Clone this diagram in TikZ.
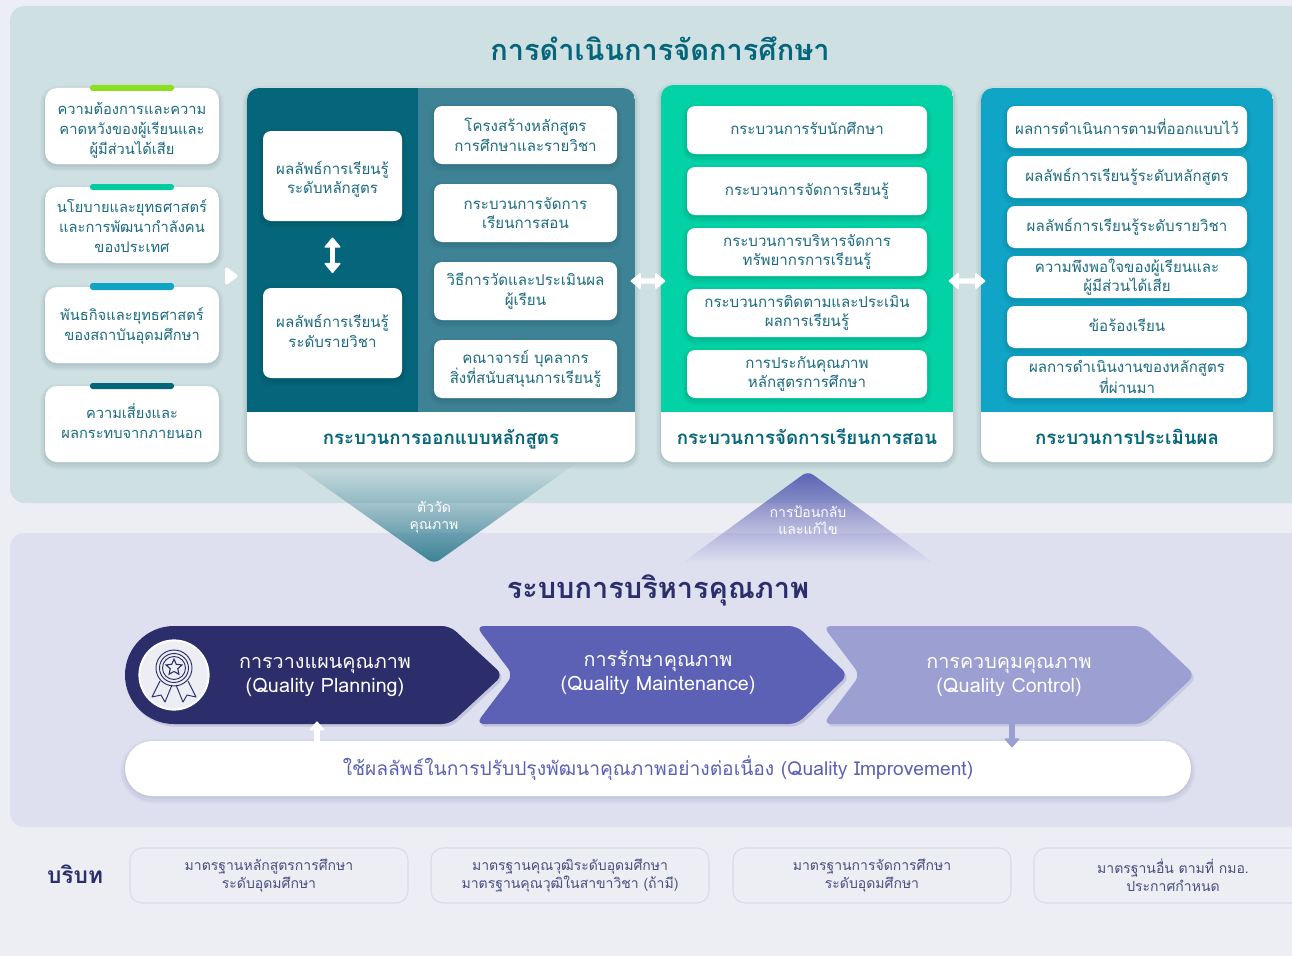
\documentclass[tikz,border=0pt]{standalone}
\usepackage{fontspec}
\setmainfont[Script=Thai]{Loma}
\usetikzlibrary{arrows.meta,shapes.geometric,fadings,calc}
\definecolor{pagebg}{HTML}{ECEEF3}
\definecolor{topbg}{HTML}{CFE0E3}
\definecolor{lowbg}{HTML}{DEE0F0}
\definecolor{tealdk}{HTML}{05657A}
\definecolor{tealmd}{HTML}{3E8295}
\definecolor{greenp}{HTML}{02D2A5}
\definecolor{bluep}{HTML}{10A5C7}
\definecolor{limec}{HTML}{8ADF23}
\definecolor{navy}{HTML}{2B2E6B}
\definecolor{violet}{HTML}{5C61B5}
\definecolor{lilac}{HTML}{9C9FD1}
\definecolor{txt}{HTML}{1B6A80}
\definecolor{edgec}{HTML}{D9DCE6}
\definecolor{ctx}{HTML}{4A4F80}
\tikzfading[name=fadetop, top color=transparent!100, middle color=transparent!82, bottom color=transparent!0]
\tikzfading[name=fadebot, top color=transparent!0, middle color=transparent!70, bottom color=transparent!100]
\tikzset{
  softsh/.style={
    preaction={draw=#1,line width=7pt,draw opacity=.035,fill=none,transform canvas={yshift=-2pt}},
    preaction={draw=#1,line width=4pt,draw opacity=.05,fill=none,transform canvas={yshift=-2pt}},
    preaction={draw=#1,line width=1.5pt,draw opacity=.05,fill=none,transform canvas={yshift=-1pt}}},
  softsh/.default={black!70!tealdk},
  card/.style={fill=white,rounded corners=6pt,text=txt,softsh,font=\fontsize{11.3}{14.8}\selectfont},
  tightcard/.style={card,font=\fontsize{11.3}{12.6}\selectfont},
  sidecard/.style={card,rounded corners=9pt,font=\fontsize{11}{15}\selectfont},
  footcard/.style={fill=white,rounded corners=9pt,softsh},
  foottext/.style={text=tealdk,font=\bfseries\fontsize{14}{16}\selectfont,inner sep=0pt,anchor=base},
  heading/.style={font=\bfseries\fontsize{21.7}{26}\selectfont,inner sep=0pt},
  chevtext/.style={text=white,align=center,inner sep=0pt,font=\fontsize{14.8}{18}\selectfont},
  trilabel/.style={text=white,align=center,inner sep=0pt,font=\fontsize{10.5}{12.6}\selectfont},
  ctxcard/.style={draw=edgec,line width=.8pt,fill=pagebg,rounded corners=9pt,text=ctx,font=\fontsize{10.5}{13.8}\selectfont},
  dbl/.style={draw=white,line width=4pt,{Triangle[length=8pt,width=13pt,round,line width=1.2pt]}-{Triangle[length=8pt,width=13pt,round,line width=1.2pt]}},
  single/.style={line width=5pt,-{Triangle[length=7pt,width=12pt,round,line width=1pt]}}
}
\newcommand{\rbox}[7]{%
  \pgfmathsetlengthmacro\bxw{(#5-#3)*0.75}%
  \pgfmathsetlengthmacro\bxh{(#6-#4)*0.75}%
  \node[#2,minimum width=\bxw,minimum height=\bxh,inner sep=0pt,align=center] (#1) at ({(#3+#5)/2},{(#4+#6)/2}) {#7};}
% a strut that pushes the lines of a box downward or upward
\newcommand{\pushdn}[1]{\rule{0pt}{#1pt}}
\newcommand{\pushup}[1]{\rule[-#1pt]{0pt}{0pt}}
\begin{document}
\begin{tikzpicture}[x=0.75pt,y=-0.75pt]
\useasboundingbox (0,0) rectangle (1292,956);
\clip (0,0) rectangle (1292,956);
\fill[pagebg] (0,0) rectangle (1292,956);
% bands
\fill[topbg,rounded corners=11pt] (10,6) rectangle (1330,503);
\fill[lowbg,rounded corners=11pt] (10,533) rectangle (1330,827);
% triangles between the bands
\fill[tealmd!90!teal,path fading=fadetop,rounded corners=5pt] (290,462) -- (578,462) -- (434,564) -- cycle;
\fill[violet,path fading=fadebot,rounded corners=5pt] (808,471) -- (934,563) -- (682,563) -- cycle;
\node[trilabel] (tq) at (434,517) {ตัววัด\\คุณภาพ};
\node[trilabel] (tf) at (808,520) {การป้อนกลับ\\และแก้ไข};
% titles
\node[heading,text=tealdk] (title1) at (660,49) {การดำเนินการจัดการศึกษา};
\node[heading,text=navy] (title2) at (658,590) {ระบบการบริหารคุณภาพ};
% left column
\rbox{L1}{sidecard}{45}{88}{219}{164}{\pushdn{15}ความต้องการและความ\\คาดหวังของผู้เรียนและ\\ผู้มีส่วนได้เสีย}
\rbox{L2}{sidecard}{45}{187}{219}{263}{\pushdn{12}นโยบายและยุทธศาสตร์\\และการพัฒนากำลังคน\\ของประเทศ}
\rbox{L3}{sidecard}{45}{287}{219}{363}{\pushdn{11}พันธกิจและยุทธศาสตร์\\ของสถาบันอุดมศึกษา}
\rbox{L4}{sidecard}{45}{386}{219}{462}{ความเสี่ยงและ\\ผลกระทบจากภายนอก\pushup{4.5}}
\fill[limec,rounded corners=2pt] (90,85) rectangle (174,91);
\fill[greenp!90!teal,rounded corners=2pt] (90,184) rectangle (174,190);
\fill[bluep,rounded corners=2pt] (90,283) rectangle (174,290);
\fill[tealdk,rounded corners=2pt] (90,383) rectangle (174,389);
\fill[white,rounded corners=2.5pt,line join=round] (225,266) -- (239,276) -- (225,286) -- cycle;
% panel 1
\rbox{PD}{footcard}{247}{88}{635}{462}{}
\begin{scope}
\clip[rounded corners=9pt] (247,88) rectangle (635,462);
\fill[tealdk] (247,88) rectangle (418,412);
\fill[tealmd] (418,88) rectangle (635,412);
\end{scope}
\node[foottext] (fD) at (441,444) {กระบวนการออกแบบหลักสูตร};
\rbox{O1}{card}{263}{131}{402}{221}{\pushdn{15}ผลลัพธ์การเรียนรู้\\ระดับหลักสูตร}
\rbox{O2}{card}{263}{288}{402}{378}{ผลลัพธ์การเรียนรู้\\ระดับรายวิชา\pushup{3}}
\draw[dbl,shorten <=12.2pt,shorten >=11pt] (O1.south) -- (O2.north);
\rbox{D1}{card}{434}{106}{617}{164}{โครงสร้างหลักสูตร\\การศึกษาและรายวิชา}
\rbox{D2}{card}{434}{184}{617}{242}{กระบวนการจัดการ\\เรียนการสอน}
\rbox{D3}{card}{434}{262}{617}{320}{วิธีการวัดและประเมินผล\\ผู้เรียน}
\rbox{D4}{card}{434}{340}{617}{398}{คณาจารย์ บุคลากร\\สิ่งที่สนับสนุนการเรียนรู้}
% panel 2
\rbox{PT}{footcard}{661}{85}{953}{462}{}
\begin{scope}
\clip[rounded corners=9pt] (661,85) rectangle (953,462);
\fill[greenp] (661,85) rectangle (953,412);
\end{scope}
\node[foottext] (fT) at (807,444) {กระบวนการจัดการเรียนการสอน};
\rbox{T1}{card}{687}{106}{927}{154}{กระบวนการรับนักศึกษา\pushup{3}}
\rbox{T2}{card}{687}{167}{927}{215}{กระบวนการจัดการเรียนรู้}
\rbox{T3}{card}{687}{228}{927}{276}{กระบวนการบริหารจัดการ\\ทรัพยากรการเรียนรู้}
\rbox{T4}{card}{687}{289}{927}{337}{กระบวนการติดตามและประเมิน\\ผลการเรียนรู้}
\rbox{T5}{card}{687}{350}{927}{398}{การประกันคุณภาพ\\หลักสูตรการศึกษา}
% panel 3
\rbox{PE}{footcard}{981}{88}{1273}{462}{}
\begin{scope}
\clip[rounded corners=9pt] (981,88) rectangle (1273,462);
\fill[bluep] (981,88) rectangle (1273,412);
\end{scope}
\node[foottext] (fE) at (1127,444) {กระบวนการประเมินผล};
\rbox{E1}{card}{1007}{106}{1247}{148}{ผลการดำเนินการตามที่ออกแบบไว้}
\rbox{E2}{card}{1007}{156}{1247}{198}{ผลลัพธ์การเรียนรู้ระดับหลักสูตร}
\rbox{E3}{card}{1007}{206}{1247}{248}{ผลลัพธ์การเรียนรู้ระดับรายวิชา}
\rbox{E4}{tightcard}{1007}{256}{1247}{298}{ความพึงพอใจของผู้เรียนและ\\ผู้มีส่วนได้เสีย}
\rbox{E5}{card}{1007}{306}{1247}{348}{ข้อร้องเรียน\pushup{3}}
\rbox{E6}{tightcard}{1007}{356}{1247}{398}{ผลการดำเนินงานของหลักสูตร\\ที่ผ่านมา}
% links between panels
\draw[dbl] ([xshift=-3.5pt,yshift=-4.5pt]PD.east) -- ([xshift=3.5pt,yshift=-5.6pt]PT.west);
\draw[dbl] ([xshift=-3.5pt,yshift=-5.6pt]PT.east) -- ([xshift=3.5pt,yshift=-4.5pt]PE.west);
% chevrons
\fill[lilac,rounded corners=6pt,preaction={fill=navy,fill opacity=.12,transform canvas={xshift=1.5pt,yshift=-2pt}}] (823,626) -- (1143,626) -- (1195,675) -- (1143,724) -- (823,724) -- (860,675) -- cycle;
\fill[violet,rounded corners=6pt,preaction={fill=navy,fill opacity=.15,transform canvas={xshift=1.5pt,yshift=-2pt}}] (476,626) -- (797,626) -- (848,675) -- (797,724) -- (476,724) -- (513,675) -- cycle;
\fill[navy,preaction={fill=navy,fill opacity=.15,transform canvas={xshift=1.5pt,yshift=-2pt}}] (174,626) [rounded corners=6pt] -- (450,626) -- (503,675) -- (450,724) [sharp corners] -- (174,724) arc[start angle=90,end angle=270,radius=49];
\node[chevtext] (C1) at (325,677) {การวางแผนคุณภาพ\\(Quality Planning)};
\node[chevtext] (C2) at (658,673) {การรักษาคุณภาพ\\(Quality Maintenance)};
\node[chevtext] (C3) at (1009,677) {การควบคุมคุณภาพ\\(Quality Control)};
% medal
\node[circle,fill=pagebg,draw=white,line width=1.4pt,minimum size=52pt,inner sep=0pt,softsh=navy] (badge) at (174,675) {};
\begin{scope}[navy,line width=.7pt]
\draw (174,668) circle[radius=18];
\draw (174,668) circle[radius=14.5];
\draw (174,668) circle[radius=11.5];
\draw[line join=round] (160,681) -- (152,697) -- (161,695) -- (165,702) -- (172,685);
\draw[line join=round] (188,681) -- (196,697) -- (187,695) -- (183,702) -- (176,685);
\node[star,star points=5,star point ratio=2.1,draw=navy,line width=.8pt,minimum size=12.5pt,inner sep=0pt] (badgestar) at (174,667.5) {};
\end{scope}
% improvement bar
\rbox{IMP}{fill=white,rounded corners=20.6pt,softsh=navy,text=violet,font=\fontsize{14.4}{16}\selectfont}{125}{741}{1191}{796}{ใช้ผลลัพธ์ในการปรับปรุงพัฒนาคุณภาพอย่างต่อเนื่อง (Quality Improvement)}
\coordinate (upfoot) at ($(IMP.north)+(-255.75pt,0)$);
\coordinate (uphead) at ($(upfoot)+(0,14.5pt)$);
\coordinate (dnstart) at ($(IMP.north)+(265.5pt,13pt)$);
\coordinate (dnend) at ($(IMP.north)+(265.5pt,-5pt)$);
\draw[single,draw=white] (upfoot) -- (uphead);
\draw[single,draw=lilac] (dnstart) -- (dnend);
% context
\node[text=navy,inner sep=0pt,font=\bfseries\fontsize{17}{20}\selectfont] (ctxlab) at (75,874) {บริบท};
\rbox{S1}{ctxcard}{130}{848}{408}{903}{มาตรฐานหลักสูตรการศึกษา\\ระดับอุดมศึกษา}
\rbox{S2}{ctxcard}{431}{848}{709}{903}{มาตรฐานคุณวุฒิระดับอุดมศึกษา\\มาตรฐานคุณวุฒิในสาขาวิชา (ถ้ามี)}
\rbox{S3}{ctxcard}{733}{848}{1011}{903}{มาตรฐานการจัดการศึกษา\\ระดับอุดมศึกษา}
\rbox{S4}{ctxcard}{1034}{848}{1312}{903}{มาตรฐานอื่น ตามที่ กมอ.\\ประกาศกำหนด}
\end{tikzpicture}
\end{document}
